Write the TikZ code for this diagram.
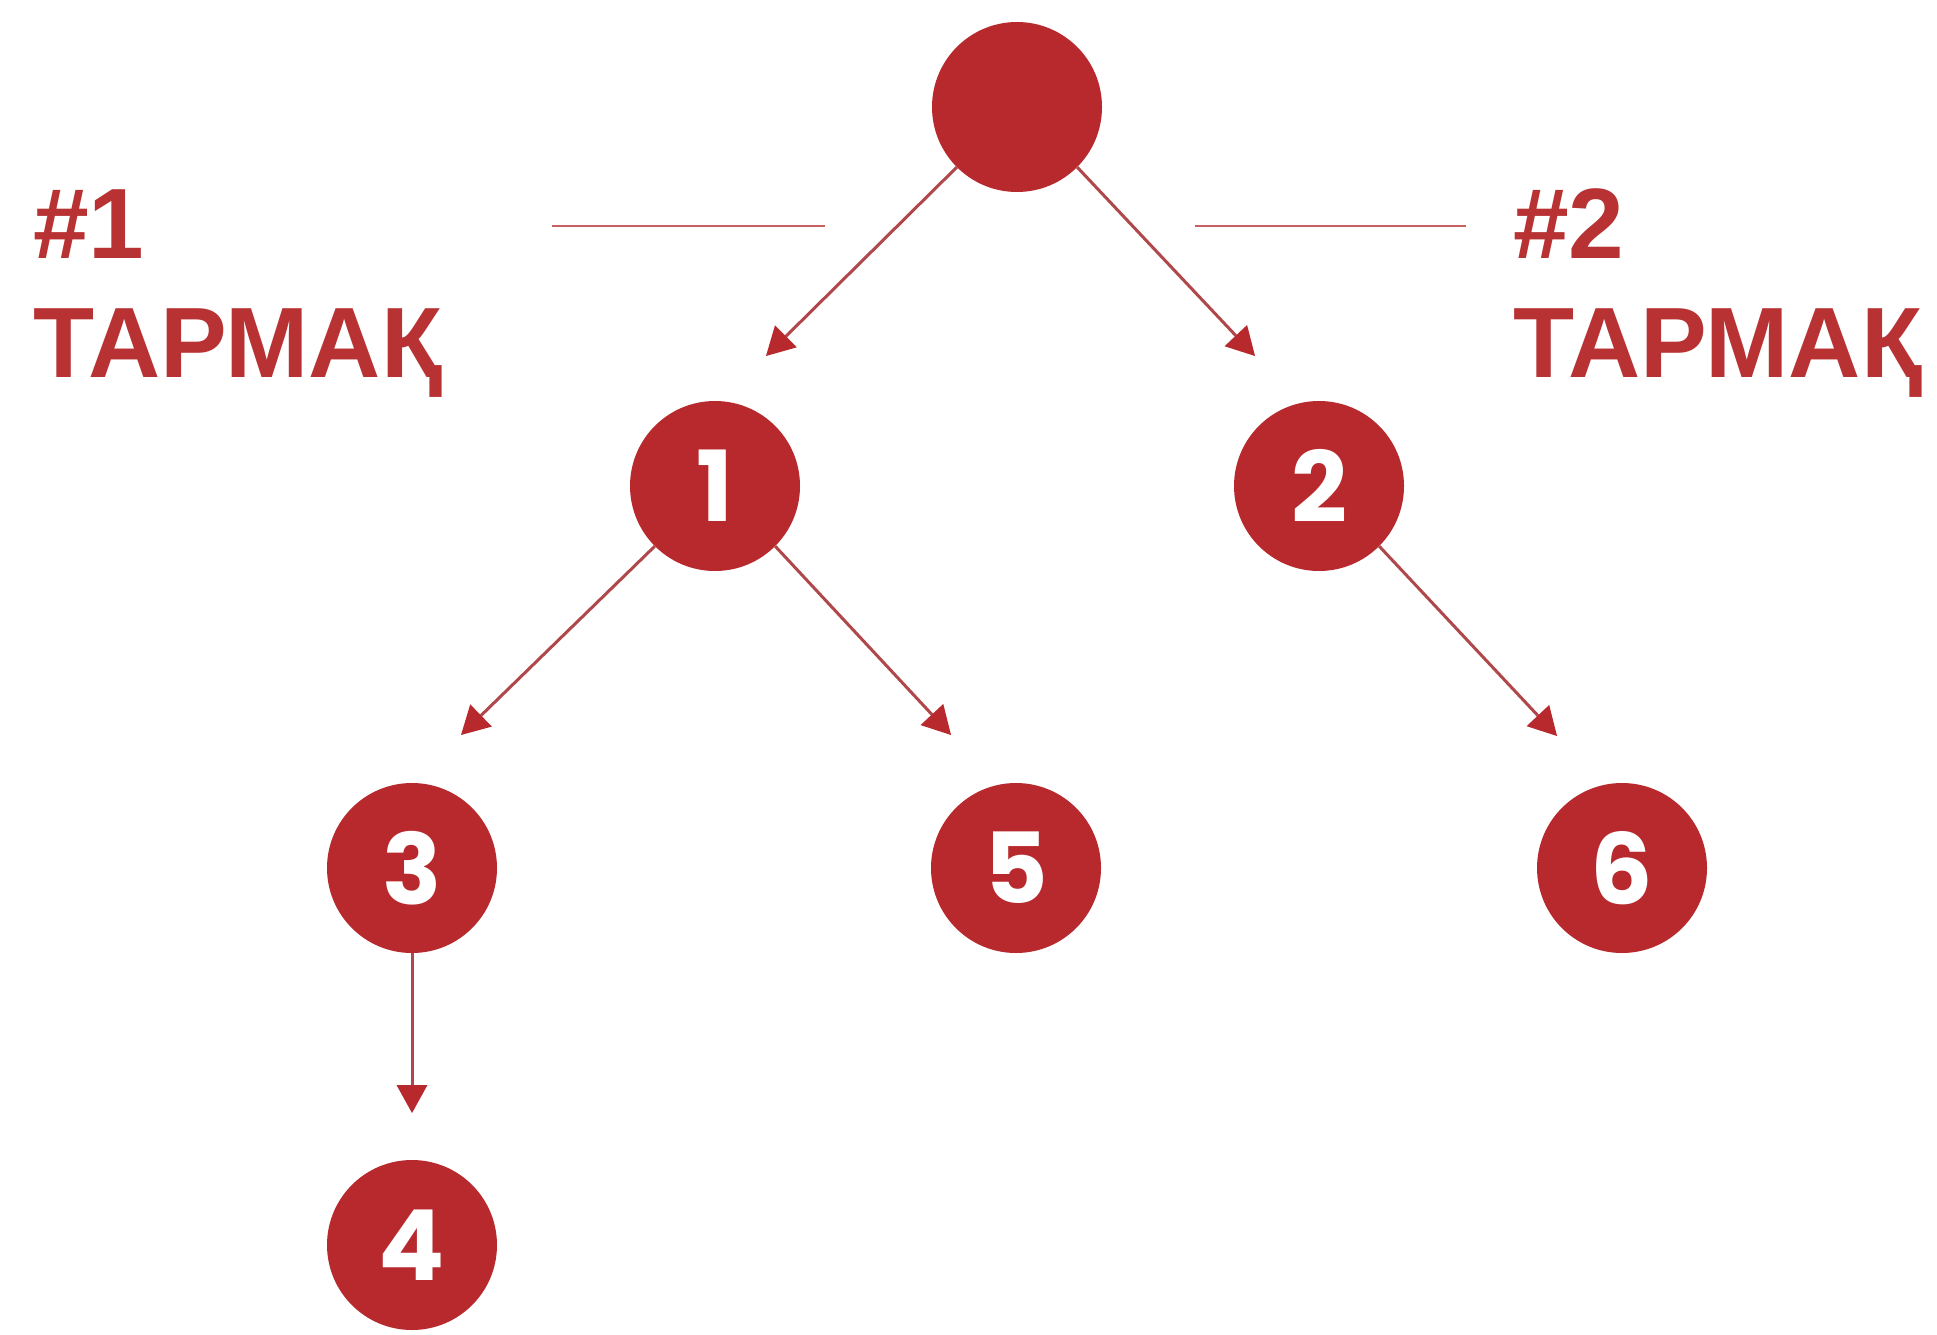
\documentclass[tikz,border=0pt]{standalone}
\usepackage{fontspec}
\setmainfont{Liberation Sans}
\newfontfamily\labfont{Liberation Sans}
\newfontfamily\numfont{Poppins}
\usetikzlibrary{arrows.meta}
\definecolor{nodered}{HTML}{B8292E}
\definecolor{textred}{HTML}{B83234}
\definecolor{linered}{HTML}{B0474B}
\definecolor{rulered}{HTML}{C8605F}
\tikzset{
  treenode/.style={circle,fill=nodered,draw=none,minimum size=170pt,inner sep=0pt,
    text=white,font=\numfont\bfseries\fontsize{98}{98}\selectfont},
  link/.style={draw=linered,line width=3pt,
    arrows={-{Triangle[width=31pt,length=28pt,line width=0pt,color=nodered,fill=nodered]}}},
  rule/.style={draw=rulered,line width=2.6pt},
  label/.style={text=textred,font=\labfont\bfseries\fontsize{100}{100}\selectfont,inner sep=0pt,anchor=base west}
}
\begin{document}
\begin{tikzpicture}[x=1pt,y=-1pt]
\useasboundingbox (0,0) rectangle (1937,1335);
\fill[white] (0,0) rectangle (1937,1335);

\node[treenode] (root) at (1017,107) {};
\node[treenode] (n1) at (715,486) {1};
\node[treenode] (n2) at (1319,486) {2};
\node[treenode] (n3) at (412,868) {3};
\node[treenode] (n5) at (1016,868) {5};
\node[treenode] (n6) at (1622,868) {6};
\node[treenode] (n4) at (412,1245) {4};

\coordinate (e1) at (766,356);
\coordinate (e2) at (1255,356);
\coordinate (e3) at (461,735);
\coordinate (e5) at (951,735);
\coordinate (e6) at (1557,736);
\coordinate (e4) at (412,1113);

\draw[link] (root.225) -- (e1);
\draw[link] (root.-45) -- (e2);
\draw[link] (n1.225) -- (e3);
\draw[link] (n1.-45) -- (e5);
\draw[link] (n2.-45) -- (e6);
\draw[link] (n3.south) -- (e4);

\coordinate (r1a) at (552,226);
\coordinate (r1b) at (825,226);
\coordinate (r2a) at (1195,226);
\coordinate (r2b) at (1466,226);
\draw[rule] (r1a) -- (r1b);
\draw[rule] (r2a) -- (r2b);

\node[label] (l1a) at (33,258) {\#1};
\node[label] (l1b) at (33,377) {ТАРМАҚ};
\node[label] (l2a) at (1513,258) {\#2};
\node[label] (l2b) at (1513,377) {ТАРМАҚ};
\end{tikzpicture}
\end{document}
